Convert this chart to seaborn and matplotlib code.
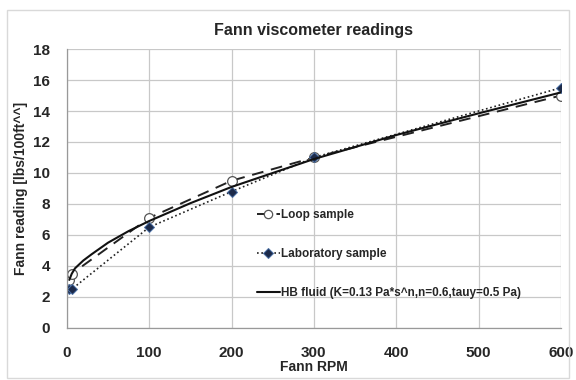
import pandas as pd
import seaborn as sns
import matplotlib.pyplot as plt
from matplotlib.lines import Line2D
from matplotlib.patches import Rectangle

# data
LOOP_RPM = [3, 6, 100, 200, 300, 600]
LOOP_READING = [3.1, 3.5, 7.1, 9.5, 11.0, 15.0]

LAB_RPM = [3, 6, 100, 200, 300, 600]
LAB_READING = [2.5, 2.5, 6.5, 8.8, 11.0, 15.5]

HB_RPM = [3, 6, 10, 20, 30, 50, 75, 100, 150, 200, 300, 400, 500, 600]
HB_READING = [3.1, 3.5, 3.85, 4.35, 4.75, 5.5, 6.25, 6.9, 8.05, 9.1, 10.9, 12.45, 13.85, 15.2]

X_TICKS = [0, 100, 200, 300, 400, 500, 600]
Y_TICKS = [0, 2, 4, 6, 8, 10, 12, 14, 16, 18]

LABELS = ["Loop sample", "Laboratory sample",
          "HB fluid (K=0.13 Pa*s^n,n=0.6,tauy=0.5 Pa)"]

OUTPUT_IMAGE = "out.png"

LOOP_STYLE = dict(color="#222222", linestyle=(0, (6, 4)), linewidth=1.4, marker="o",
                  markersize=7, markerfacecolor="white", markeredgecolor="#555555",
                  markeredgewidth=0.9)
LAB_STYLE = dict(color="#222222", linestyle=(0, (1, 1.6)), linewidth=1.2, marker="D",
                 markersize=5.5, markerfacecolor="#1c2a4a", markeredgecolor="#4a6fa5",
                 markeredgewidth=0.7)
HB_STYLE = dict(color="#111111", linestyle="-", linewidth=1.5)


def make_plot():
    sns.set_theme(style="whitegrid")
    plt.rcParams['font.family'] = ['Liberation Sans', 'DejaVu Sans']
    plt.rcParams['font.weight'] = 'bold'

    loop_df = pd.DataFrame({"rpm": LOOP_RPM, "reading": LOOP_READING})
    lab_df = pd.DataFrame({"rpm": LAB_RPM, "reading": LAB_READING})
    hb_df = pd.DataFrame({"rpm": HB_RPM, "reading": HB_READING})

    fig = plt.figure(figsize=(5.76, 3.8), dpi=100)
    ax = fig.add_axes([0.116, 0.137, 0.858, 0.734])

    sns.lineplot(data=loop_df, x="rpm", y="reading", ax=ax, legend=False, **LOOP_STYLE)
    sns.lineplot(data=lab_df, x="rpm", y="reading", ax=ax, legend=False, **LAB_STYLE)
    sns.lineplot(data=hb_df, x="rpm", y="reading", ax=ax, legend=False, **HB_STYLE)

    ax.set_xlim(0, 600)
    ax.set_ylim(0, 18)
    ax.set_xticks(X_TICKS)
    ax.set_yticks(Y_TICKS)
    ax.tick_params(axis="both", labelsize=11, length=4, color="#999999",
                   direction="out")
    ax.tick_params(axis="x", pad=9)
    ax.tick_params(axis="y", pad=8)

    ax.grid(True, color="#c8c8c8", linewidth=0.9)
    for side in ["top", "right"]:
        ax.spines[side].set_visible(False)
    for side in ["left", "bottom"]:
        ax.spines[side].set_color("#999999")
        ax.spines[side].set_linewidth(0.9)

    ax.set_title("Fann viscometer readings", fontsize=11.5, fontweight="bold", pad=10)
    ax.set_xlabel("Fann RPM", fontsize=10, fontweight="bold", labelpad=0)
    ax.set_ylabel("Fann reading [lbs/100ft^^]", fontsize=10, fontweight="bold", labelpad=4)

    handles = [Line2D([], [], markersize=6, **{k: v for k, v in LOOP_STYLE.items() if k != "markersize"}),
               Line2D([], [], markersize=5, **{k: v for k, v in LAB_STYLE.items() if k != "markersize"}),
               Line2D([], [], **HB_STYLE)]
    ax.legend(handles, LABELS, loc="upper left", bbox_to_anchor=(0.385, 0.427),
              frameon=False, prop={"size": 8.5, "weight": "bold"},
              handlelength=1.9, handletextpad=0.1, labelspacing=2.3,
              borderaxespad=0, borderpad=0)

    # chart area border
    fig.patches.append(Rectangle((0.012, 0.005), 0.976, 0.97, transform=fig.transFigure,
                                 fill=False, edgecolor="#d9d9d9", linewidth=1))

    fig.savefig(OUTPUT_IMAGE, dpi=100)


if __name__ == "__main__":
    make_plot()
